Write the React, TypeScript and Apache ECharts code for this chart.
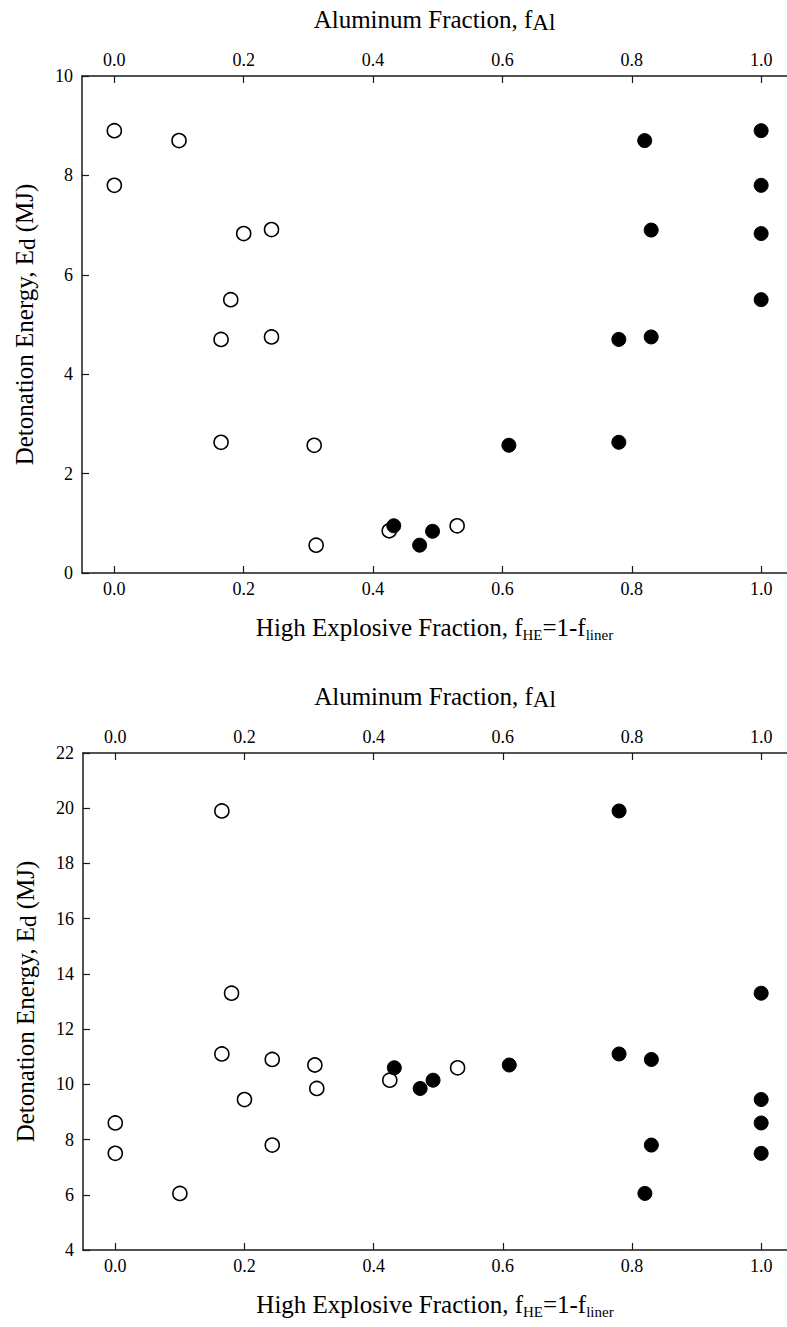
import React, { useEffect, useRef } from "react";
import * as echarts from "echarts";

// Tick values shared by the fraction axes
const xTicks = [0, 0.2, 0.4, 0.6, 0.8, 1.0];

// Upper panel: open circles vs aluminum fraction (top axis), filled vs HE fraction (bottom axis)
const openX1 = [0.0, 0.0, 0.1, 0.165, 0.165, 0.18, 0.2, 0.243, 0.243, 0.309, 0.312, 0.425, 0.53];
const openY1 = [8.9, 7.8, 8.7, 4.7, 2.63, 5.5, 6.83, 6.91, 4.75, 2.57, 0.56, 0.85, 0.95];
const filledX1 = [1.0, 1.0, 1.0, 1.0, 0.82, 0.83, 0.83, 0.78, 0.78, 0.61, 0.432, 0.472, 0.492];
const filledY1 = [8.9, 7.8, 6.83, 5.5, 8.7, 6.9, 4.75, 4.7, 2.63, 2.57, 0.95, 0.56, 0.84];

// Lower panel
const openX2 = [0.0, 0.0, 0.1, 0.165, 0.165, 0.18, 0.2, 0.243, 0.243, 0.309, 0.312, 0.425, 0.53];
const openY2 = [8.6, 7.5, 6.05, 19.9, 11.1, 13.3, 9.45, 10.9, 7.8, 10.7, 9.85, 10.15, 10.6];
const filledX2 = [1.0, 1.0, 1.0, 1.0, 0.82, 0.83, 0.83, 0.78, 0.78, 0.61, 0.432, 0.472, 0.492];
const filledY2 = [13.3, 9.45, 8.6, 7.5, 6.05, 10.9, 7.8, 19.9, 11.1, 10.7, 10.6, 9.85, 10.15];

const FONT = "Liberation Serif";
const AXIS_COLOR = "#1a1a1a";

const zip = (xs: number[], ys: number[]) => xs.map((x, i) => [x, ys[i]]);

function xAxisDef(gridIndex: number, position: "top" | "bottom", name: string, nameGap: number) {
  return {
    type: "value",
    gridIndex,
    position,
    min: -0.05,
    max: 1.04,
    name,
    nameLocation: "middle",
    nameGap,
    nameTextStyle: {
      fontFamily: FONT,
      fontSize: 25,
      color: "#000",
      lineHeight: 30,
      rich: {
        al: { fontFamily: FONT, fontSize: 23, color: "#000", verticalAlign: "bottom", lineHeight: 30 },
        sub: { fontFamily: FONT, fontSize: 15, color: "#000", verticalAlign: "bottom", lineHeight: 30 },
      },
    },
    splitLine: { show: false },
    axisLine: { show: true, onZero: false, lineStyle: { color: AXIS_COLOR, width: 1.5 } },
    axisTick: { show: true, inside: true, length: 7, customValues: xTicks, lineStyle: { color: AXIS_COLOR, width: 1.2 } },
    axisLabel: {
      customValues: xTicks,
      formatter: (v: number) => v.toFixed(1),
      fontFamily: FONT,
      fontSize: 18,
      color: "#000",
      margin: 7,
    },
  };
}

function yAxisDef(gridIndex: number, min: number, max: number) {
  return {
    type: "value",
    gridIndex,
    min,
    max,
    interval: 2,
    name: "Detonation Energy, E{d|d} (MJ)",
    nameLocation: "middle",
    nameGap: 43,
    nameRotate: 90,
    nameTextStyle: {
      fontFamily: FONT,
      fontSize: 25,
      color: "#000",
      lineHeight: 30,
      rich: {
        d: { fontFamily: FONT, fontSize: 23, color: "#000", verticalAlign: "bottom", lineHeight: 30 },
      },
    },
    splitLine: { show: false },
    axisLine: { show: true, onZero: false, lineStyle: { color: AXIS_COLOR, width: 1.5 } },
    axisTick: { show: true, inside: true, length: 7, lineStyle: { color: AXIS_COLOR, width: 1.2 } },
    axisLabel: { fontFamily: FONT, fontSize: 18, color: "#000", margin: 9 },
  };
}

const openStyle = { color: "#fff", borderColor: "#000", borderWidth: 1.6, opacity: 1 };
const filledStyle = { color: "#000", borderColor: "#000", borderWidth: 1, opacity: 1 };

export default function App() {
  const ref = useRef<HTMLDivElement>(null);
  useEffect(() => {
    if (!ref.current) return;
    const chart = echarts.init(ref.current, null, { renderer: "svg" });
    const topName = "Aluminum Fraction, f{al|Al}";
    const bottomName = "High Explosive Fraction, f{sub|HE}=1-f{sub|liner}";
    chart.setOption({
      animation: false,
      backgroundColor: "#fff",
      grid: [
        { left: 82, top: 76, width: 706, height: 497 },
        { left: 83, top: 753, width: 706, height: 497 },
      ],
      xAxis: [
        xAxisDef(0, "bottom", bottomName, 39),
        xAxisDef(0, "top", topName, 42),
        xAxisDef(1, "bottom", bottomName, 39),
        xAxisDef(1, "top", topName, 42),
      ],
      yAxis: [yAxisDef(0, 0, 10), yAxisDef(1, 4, 22)],
      series: [
        { type: "scatter", xAxisIndex: 1, yAxisIndex: 0, symbol: "circle", symbolSize: 14, itemStyle: openStyle, data: zip(openX1, openY1) },
        { type: "scatter", xAxisIndex: 0, yAxisIndex: 0, symbol: "circle", symbolSize: 14, itemStyle: filledStyle, data: zip(filledX1, filledY1) },
        { type: "scatter", xAxisIndex: 3, yAxisIndex: 1, symbol: "circle", symbolSize: 14, itemStyle: openStyle, data: zip(openX2, openY2) },
        { type: "scatter", xAxisIndex: 2, yAxisIndex: 1, symbol: "circle", symbolSize: 14, itemStyle: filledStyle, data: zip(filledX2, filledY2) },
      ],
    });
    return () => chart.dispose();
  }, []);
  return (
    <div
      ref={ref}
      style={{ position: "absolute", left: 0, top: 0, width: 787, height: 1327, background: "#fff" }}
    />
  );
}
